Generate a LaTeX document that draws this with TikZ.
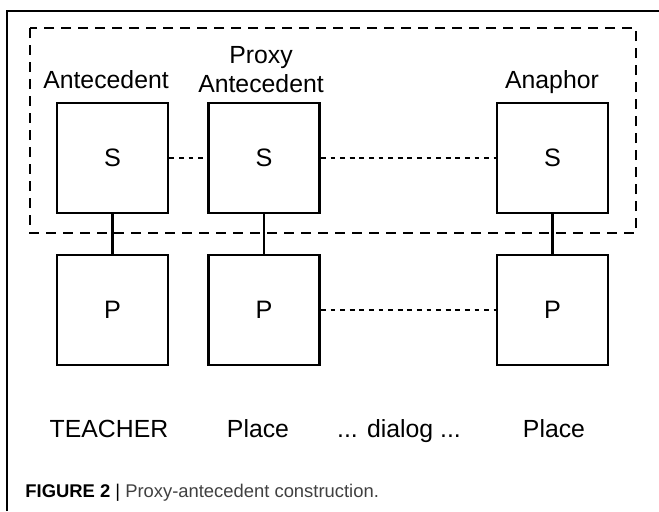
\documentclass[tikz,border=0pt]{standalone}
\usepackage{fontspec}
\setmainfont{Liberation Sans}
\begin{document}
\begin{tikzpicture}[x=0.5pt,y=-0.5pt,
  box/.style={draw,line width=1.4pt,minimum width=55.5pt,minimum height=55pt,inner sep=0pt,font=\fontsize{12.6}{14}\selectfont},
  lbl/.style={anchor=base,inner sep=0pt,font=\fontsize{12.4}{13}\selectfont},
  link/.style={line width=1.4pt},
  dots/.style={line width=1.4pt,dash pattern=on 2.4pt off 2.4pt},
  grp/.style={line width=0.7pt,dash pattern=on 5pt off 3.5pt}]
\useasboundingbox (0,0) rectangle (659,511);
\draw[line width=0.7pt] (7,511) -- (7,11) -- (659,11);
\draw[grp] (30,28) rectangle (636,233);
\node[box] (S1) at (112.5,158) {S};
\node[box] (S2) at (264,158) {S};
\node[box] (S3) at (552.5,158) {S};
\node[box] (P1) at (112.5,310) {P};
\node[box] (P2) at (264,310) {P};
\node[box] (P3) at (552.5,310) {P};
\draw[link] (S1.south) -- (P1.north);
\draw[link] (S2.south) -- (P2.north);
\draw[link] (S3.south) -- (P3.north);
\draw[dots] (S1.east) -- (S2.west);
\draw[dots] (S2.east) -- (S3.west);
\draw[dots] (P2.east) -- (P3.west);
\node[lbl] (la) at (106,88) {Antecedent};
\node[lbl] (lp1) at (261,63) {Proxy};
\node[lbl] (lp2) at (261,92) {Antecedent};
\node[lbl] (ln) at (552,88) {Anaphor};
\node[lbl] (b1) at (109,437) {TEACHER};
\node[lbl] (b2) at (258,437) {Place};
\node[lbl] (b3) at (399,437) {... dialog ...};
\node[lbl] (b4) at (554,437) {Place};
\node[anchor=base west,inner sep=0pt,font=\fontsize{9.2}{11}\selectfont] (cap) at (25,497) {\textbf{FIGURE 2} | \textcolor{black!75}{Proxy-antecedent construction.}};
\end{tikzpicture}
\end{document}
